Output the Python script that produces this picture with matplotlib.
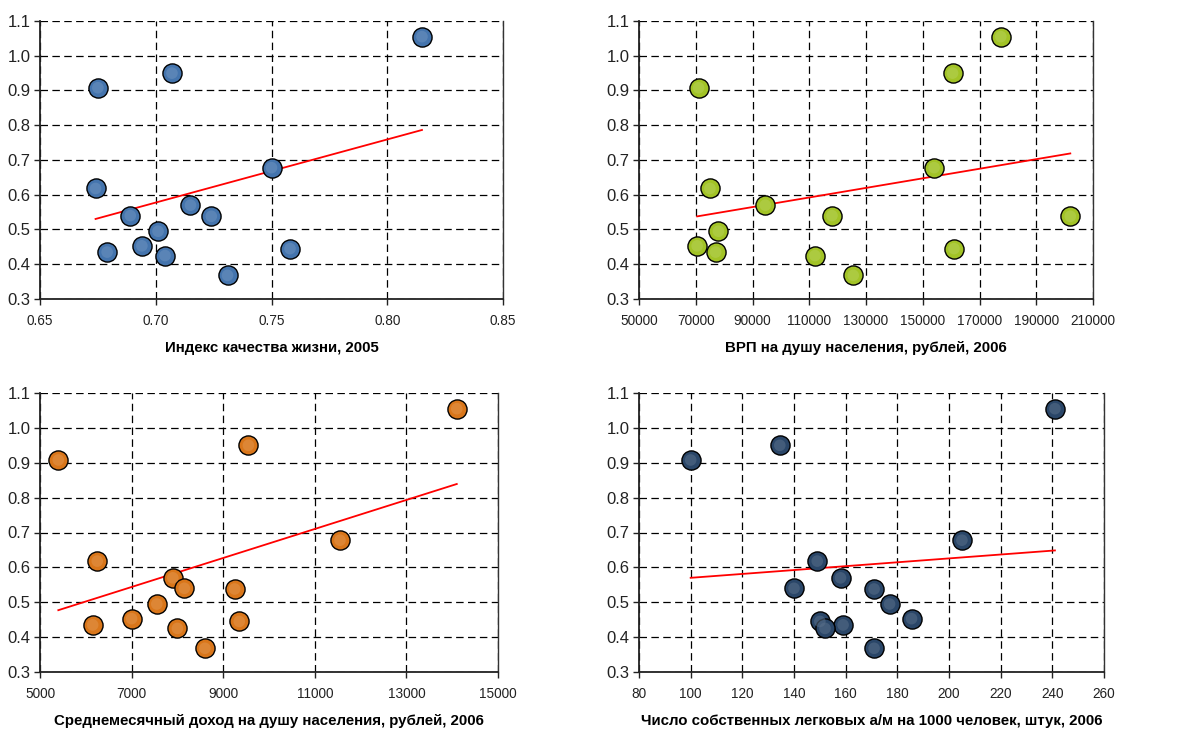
import numpy as np
import matplotlib
matplotlib.use("Agg")
import matplotlib.pyplot as plt
from matplotlib.colors import to_rgb

plt.rcParams['font.family'] = ['Liberation Sans', 'DejaVu Sans']

# Dependent variable (common to all panels)
y_vals = [1.055, 0.950, 0.908, 0.678, 0.618, 0.570, 0.540, 0.538, 0.495, 0.453, 0.445, 0.435, 0.425, 0.368]

# Independent variables
quality_index = [0.815, 0.707, 0.675, 0.750, 0.674, 0.715, 0.689, 0.724, 0.701, 0.694, 0.758, 0.679, 0.704, 0.731]
grp_per_capita = [177500, 160500, 71000, 154000, 75000, 94500, 118000, 202000, 78000, 70500, 161000, 77000, 112000, 125500]
income_per_capita = [14100, 9550, 5400, 11550, 6250, 7900, 8150, 9250, 7550, 7000, 9350, 6150, 8000, 8600]
cars_per_1000 = [241, 134.5, 100, 205, 149, 158, 140, 171, 177, 185.5, 150, 159, 152, 171]

titles = ["Индекс качества жизни, 2005",
          "ВРП на душу населения, рублей, 2006",
          "Среднемесячный доход на душу населения, рублей, 2006",
          "Число собственных легковых а/м на 1000 человек, штук, 2006"]

x_ticks = [[0.65, 0.70, 0.75, 0.80, 0.85],
           [50000, 70000, 90000, 110000, 130000, 150000, 170000, 190000, 210000],
           [5000, 7000, 9000, 11000, 13000, 15000],
           [80, 100, 120, 140, 160, 180, 200, 220, 240, 260]]
x_labels = [["0.65", "0.70", "0.75", "0.80", "0.85"],
            [str(v) for v in x_ticks[1]],
            [str(v) for v in x_ticks[2]],
            [str(v) for v in x_ticks[3]]]
y_ticks = [0.3, 0.4, 0.5, 0.6, 0.7, 0.8, 0.9, 1.0, 1.1]
y_labels = ["0.3", "0.4", "0.5", "0.6", "0.7", "0.8", "0.9", "1.0", "1.1"]

colors = ["#4474ad", "#a2c326", "#d9761a", "#2a4668"]
xs = [quality_index, grp_per_capita, income_per_capita, cars_per_1000]

W, H = 1186, 729
fig = plt.figure(figsize=(W / 100, H / 100), dpi=100)

# axes boxes in pixels: left, top, right, bottom
boxes = [(40, 21, 503, 299),
         (639, 21, 1093, 299),
         (40, 393, 498, 672),
         (639, 393, 1104, 672)]


def lighten(c, f):
    r, g, b = to_rgb(c)
    return (r + (1 - r) * f, g + (1 - g) * f, b + (1 - b) * f)


for i, (l, t, r, b) in enumerate(boxes):
    ax = fig.add_axes([l / W, 1 - b / H, (r - l) / W, (b - t) / H])
    x = np.array(xs[i], dtype=float)
    y = np.array(y_vals)
    ax.set_xlim(x_ticks[i][0], x_ticks[i][-1])
    ax.set_ylim(0.3, 1.1)
    ax.set_xticks(x_ticks[i])
    ax.set_xticklabels(x_labels[i])
    ax.set_yticks(y_ticks)
    ax.set_yticklabels(y_labels)
    ax.grid(True, color='black', linestyle=(0, (6, 3.5)), linewidth=0.9)
    ax.set_axisbelow(True)
    ax.spines['top'].set_visible(False)
    ax.spines['right'].set_color('#333333')
    ax.spines['right'].set_linewidth(1.0)
    for s in ['left', 'bottom']:
        ax.spines[s].set_color('#222222')
        ax.spines[s].set_linewidth(1.3)
    ax.tick_params(axis='both', direction='out', length=4, width=1.0,
                   colors='#222222')
    ax.tick_params(axis='y', labelsize=12, pad=3)
    ax.tick_params(axis='x', labelsize=9.8, pad=7)

    # trend line (least squares) over data range
    k, c = np.polyfit(x, y, 1)
    xl = np.array([x.min(), x.max()])
    ax.plot(xl, k * xl + c, color='red', linewidth=1.3, zorder=3)

    ax.scatter(x, y, s=190, c=colors[i], edgecolors='black', linewidths=1.0, zorder=4)
    # soft highlight to mimic gradient-filled markers
    ax.scatter(x, y, s=70, color=lighten(colors[i], 0.22), edgecolors='none',
               alpha=0.55, zorder=5)
    ax.set_xlabel(titles[i], fontsize=10.8, fontweight='bold', labelpad=9)

fig.savefig("out.png", dpi=100)
